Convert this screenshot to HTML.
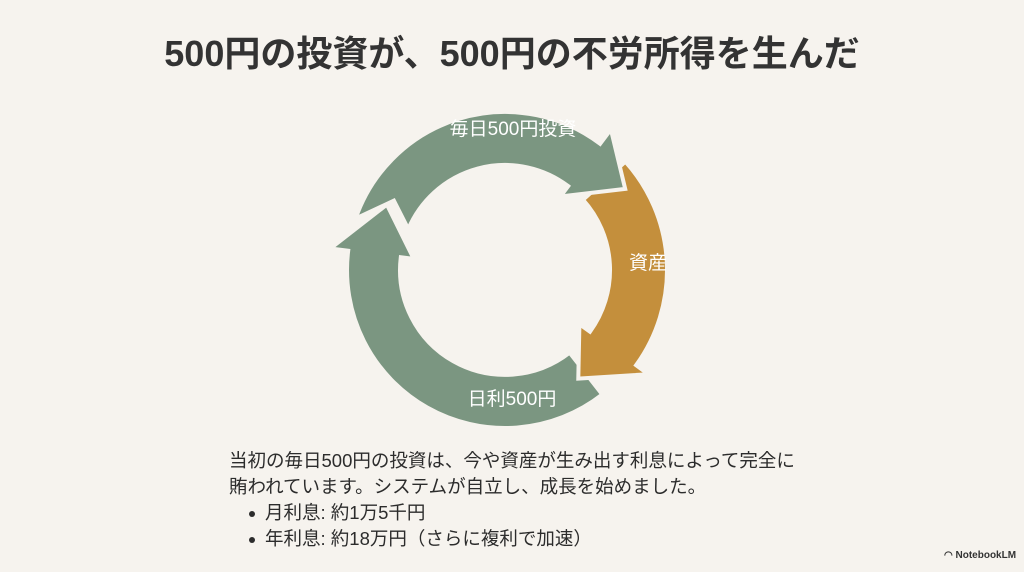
<!DOCTYPE html>
<html><head><meta charset="utf-8"><style>
html,body{margin:0;padding:0}
body{width:1024px;height:572px;background:#f6f3ee;position:relative;overflow:hidden;font-family:"Liberation Sans","Noto Sans CJK JP",sans-serif;color:#2f2f2f}
.title{position:absolute;left:0;width:1024px;top:31px;text-align:center;font-size:36px;font-weight:bold;line-height:46px;color:#333}
.body{position:absolute;left:229px;top:448px;font-size:18.5px;line-height:26px;color:#2c2c2c}
.body ul{margin:0;padding:0 0 0 22px;list-style:none}
.body li{position:relative;padding-left:14px}
.body li:before{content:"";position:absolute;left:-2px;top:11px;width:6px;height:6px;border-radius:50%;background:#2c2c2c}
.logo{position:absolute;left:944px;top:550px;font-size:10px;font-weight:bold;color:#333}
</style></head><body>
<div class="title">500円の投資が、500円の不労所得を生んだ</div>
<svg width="1024" height="572" style="position:absolute;left:0;top:0">
<g stroke="#f6f3ee" stroke-width="4" stroke-linejoin="miter">
<path fill="#7b9681" d="M602.3,394.5 A158,158 0 0 1 348.2,250.7 L330.3,248.5 L386.9,204.6 L413.7,258.8 L400.8,257.2 A105,105 0 0 0 569.6,352.7 Z"/>
<path fill="#c48f3c" d="M625.4,161.6 A162,162 0 0 1 636.1,365.2 L648.4,374.2 L578.3,378.6 L579.4,324.1 L590.0,331.7 A105,105 0 0 0 583.0,199.7 Z"/>
<path fill="#7b9681" d="M355.6,218.6 A158,158 0 0 1 600.1,143.8 L610.9,129.4 L625.2,188.9 L560.4,196.5 L568.2,186.1 A105,105 0 0 0 408.3,229.0 L393.9,200.6 Z"/>
</g>
<g fill="#fff" font-family="Liberation Sans, Noto Sans CJK JP, sans-serif" font-size="19" text-anchor="middle">
<text x="513" y="135">毎日500円投資</text>
<text x="648" y="269">資産</text>
<text x="512" y="405">日利500円</text>
</g>
</svg>
<div class="body">当初の毎日500円の投資は、今や資産が生み出す利息によって完全に<br>賄われています。システムが自立し、成長を始めました。
<ul><li>月利息: 約1万5千円</li><li>年利息: 約18万円（さらに複利で加速）</li></ul></div>
<div class="logo">◠ NotebookLM</div>
</body></html>
